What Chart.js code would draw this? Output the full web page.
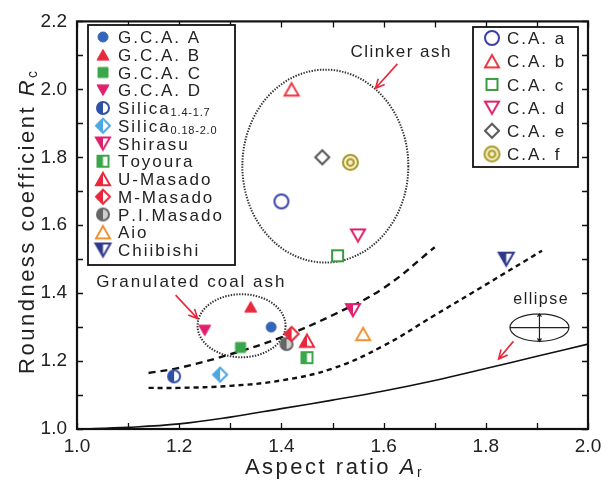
<!DOCTYPE html>
<html>
<head>
<meta charset="utf-8">
<script src="https://cdn.jsdelivr.net/npm/chart.js@4.4.0/dist/chart.umd.min.js"></script>
<style>
  html, body { margin: 0; padding: 0; background: #fff; }
  #wrap { width: 614px; height: 484px; }
</style>
</head>
<body>
<div id="wrap"><canvas id="rc-chart" width="614" height="484"></canvas></div>
<script>
// Roundness coefficient Rc against aspect ratio Ar for coal ash and sands

const seriesNames = ['G.C.A. A', 'G.C.A. B', 'G.C.A. C', 'G.C.A. D', 'Silica', 'Silica', 'Shirasu',
    'Toyoura', 'U-Masado', 'M-Masado', 'P.I.Masado', 'Aio', 'Chiibishi',
    'C.A. a', 'C.A. b', 'C.A. c', 'C.A. d', 'C.A. e', 'C.A. f'];
const seriesSubs = ['', '', '', '', '1.4-1.7', '0.18-2.0', '', '', '', '', '', '', '',
    '', '', '', '', '', ''];
const aspectRatio = [1.38, 1.34, 1.32, 1.25, 1.19, 1.28, 1.54, 1.45, 1.45, 1.42, 1.41, 1.56, 1.84,
    1.40, 1.42, 1.51, 1.55, 1.48, 1.535];
const roundness = [1.30, 1.36, 1.24, 1.29, 1.155, 1.16, 1.35, 1.21, 1.26, 1.28, 1.25, 1.28, 1.50,
    1.67, 2.00, 1.51, 1.57, 1.80, 1.785];

// ellipse line
const ellipseAr = [1.0, 1.1, 1.2, 1.3, 1.4, 1.5, 1.6, 1.7, 1.8, 1.9, 2.0];
const ellipseRc = [1.0, 1.005, 1.015, 1.035, 1.06, 1.085, 1.112, 1.143, 1.178, 1.214, 1.25];
// dashed boundaries
const upperAr = [1.14, 1.2, 1.3, 1.4, 1.5, 1.6, 1.7];
const upperRc = [1.165, 1.18, 1.22, 1.27, 1.335, 1.415, 1.535];
const lowerAr = [1.14, 1.2, 1.3, 1.4, 1.5, 1.6, 1.7, 1.8, 1.91];
const lowerRc = [1.121, 1.121, 1.127, 1.143, 1.178, 1.245, 1.335, 1.425, 1.525];

const xTickLabels = [1.0, 1.2, 1.4, 1.6, 1.8, 2.0];
const yTickLabels = [1.0, 1.2, 1.4, 1.6, 1.8, 2.0, 2.2];
const xMinorTicks = [1.0, 1.1, 1.2, 1.3, 1.4, 1.5, 1.6, 1.7, 1.8, 1.9, 2.0];
const yMinorTicks = [1.0, 1.1, 1.2, 1.3, 1.4, 1.5, 1.6, 1.7, 1.8, 1.9, 2.0, 2.1, 2.2];

const FONT = "'Liberation Sans', Arial, Helvetica, sans-serif";

const markerSpecs = [
    { shape: 'circle', color: '#3565b8', fill: 'full', r: 5 },
    { shape: 'triangle', color: '#e8283c', fill: 'full', r: 6 },
    { shape: 'square', color: '#3aa64a', fill: 'full', r: 5 },
    { shape: 'triangleDown', color: '#e0206e', fill: 'full', r: 6 },
    { shape: 'circle', color: '#3050a8', fill: 'half', r: 6 },
    { shape: 'diamond', color: '#4ea8e0', fill: 'half', r: 7 },
    { shape: 'triangleDown', color: '#e0206e', fill: 'half', r: 7 },
    { shape: 'square', color: '#3aa64a', fill: 'half', r: 5.5 },
    { shape: 'triangle', color: '#e8283c', fill: 'half', r: 7 },
    { shape: 'diamond', color: '#e8283c', fill: 'half', r: 7 },
    { shape: 'circle', color: '#666666', fill: 'grey', r: 6 },
    { shape: 'triangle', color: '#f0902c', fill: 'none', r: 7 },
    { shape: 'triangleDown', color: '#2f3a8c', fill: 'half', r: 7.5 },
    { shape: 'circle', color: '#3a40a8', fill: 'none', r: 7 },
    { shape: 'triangle', color: '#ee3040', fill: 'none', r: 7 },
    { shape: 'square', color: '#3a9a3e', fill: 'none', r: 5.5 },
    { shape: 'triangleDown', color: '#e0206e', fill: 'none', r: 7 },
    { shape: 'diamond', color: '#555555', fill: 'none', r: 7 },
    { shape: 'double', color: '#a89a28', fill: 'none', r: 7.5 }
];

// annotation shapes, in axis units
const notes = {
    clinker: { cx: 1.486, cy: 1.774, rx: 0.1624, ry: 0.284 },
    granulated: { cx: 1.322, cy: 1.304, rx: 0.0861, ry: 0.0928 },
    icon: { cx: 1.905, cy: 1.2986, rx: 0.0577, ry: 0.0406 },
    arrows: [
        [1.627, 2.075, 1.584, 2.003],
        [1.193, 1.394, 1.236, 1.325],
        [1.854, 1.258, 1.825, 1.206]
    ],
    texts: [
        ['Clinker ash', 1.633, 2.113, 17, 1.5],
        ['Granulated coal ash', 1.222, 1.435, 17, 2],
        ['ellipse', 1.907, 1.386, 16, 1.5]
    ]
};

function shapePath(ctx, shape, r) {
    ctx.beginPath();
    if (shape === 'circle' || shape === 'double') {
        ctx.arc(0, 0, r, 0, Math.PI * 2);
    } else if (shape === 'square') {
        ctx.rect(-r, -r, 2 * r, 2 * r);
    } else if (shape === 'diamond') {
        ctx.moveTo(0, -r); ctx.lineTo(r, 0); ctx.lineTo(0, r); ctx.lineTo(-r, 0); ctx.closePath();
    } else if (shape === 'triangle') {
        ctx.moveTo(0, -r * 0.875); ctx.lineTo(r, r * 0.875); ctx.lineTo(-r, r * 0.875); ctx.closePath();
    } else if (shape === 'triangleDown') {
        ctx.moveTo(0, r * 0.875); ctx.lineTo(r, -r * 0.875); ctx.lineTo(-r, -r * 0.875); ctx.closePath();
    }
}

function makeMarker(spec) {
    const size = Math.ceil(spec.r * 2 + 6);
    const c = document.createElement('canvas');
    c.width = size; c.height = size;
    const ctx = c.getContext('2d');
    ctx.translate(size / 2, size / 2);
    ctx.strokeStyle = spec.color;
    ctx.lineWidth = spec.fill === 'full' ? 1 : 2;
    shapePath(ctx, spec.shape, spec.r);
    if (spec.fill === 'full') {
        ctx.fillStyle = spec.color;
        ctx.fill();
    } else {
        ctx.fillStyle = spec.shape === 'double' ? '#f6f1c8' : '#ffffff';
        ctx.fill();
    }
    if (spec.fill === 'half' || spec.fill === 'grey') {
        ctx.save();
        ctx.clip();
        if (spec.fill === 'grey') {
            ctx.fillStyle = '#cfcfcf';
            ctx.fillRect(0, -size, size, 2 * size);
        }
        ctx.fillStyle = spec.color;
        ctx.fillRect(-size, -size, size, 2 * size);
        ctx.restore();
    }
    shapePath(ctx, spec.shape, spec.r);
    ctx.stroke();
    if (spec.shape === 'double') {
        ctx.beginPath();
        ctx.arc(0, 0, spec.r * 0.45, 0, Math.PI * 2);
        ctx.stroke();
    }
    return c;
}

const markerImages = markerSpecs.map(makeMarker);

// text drawn glyph by glyph so letter spacing is predictable
function partFont(style, size) {
    if (style === 'sub') return Math.round(size * 0.62) + 'px ' + FONT;
    if (style === 'i') return 'italic ' + size + 'px ' + FONT;
    return size + 'px ' + FONT;
}
function richWidth(ctx, parts, size, spacing) {
    let w = 0;
    parts.forEach(p => {
        ctx.font = partFont(p[1], size);
        const sp = p[1] === 'sub' ? spacing * 0.4 : spacing;
        for (const ch of p[0]) w += ctx.measureText(ch).width + sp;
    });
    return w - spacing;
}
// y is the vertical middle of the capitals
function drawRich(ctx, parts, x, y, align, size, spacing) {
    ctx.textBaseline = 'alphabetic';
    ctx.textAlign = 'left';
    const base = y + size * 0.36;
    let cx = align === 'center' ? x - richWidth(ctx, parts, size, spacing) / 2 : x;
    parts.forEach(p => {
        ctx.font = partFont(p[1], size);
        const dy = p[1] === 'sub' ? size * 0.12 : 0;
        const sp = p[1] === 'sub' ? spacing * 0.4 : spacing;
        for (const ch of p[0]) {
            ctx.fillText(ch, cx, base + dy);
            cx += ctx.measureText(ch).width + sp;
        }
    });
}

function drawArrow(ctx, x1, y1, x2, y2) {
    const a = Math.atan2(y2 - y1, x2 - x1);
    const h = 10;
    ctx.beginPath();
    ctx.moveTo(x1, y1); ctx.lineTo(x2, y2);
    ctx.moveTo(x2 - h * Math.cos(a - 0.45), y2 - h * Math.sin(a - 0.45));
    ctx.lineTo(x2, y2);
    ctx.lineTo(x2 - h * Math.cos(a + 0.45), y2 - h * Math.sin(a + 0.45));
    ctx.stroke();
}

const decorations = {
    id: 'decorations',
    beforeDatasetsDraw(chart) {
        const ctx = chart.ctx, xs = chart.scales.x, ys = chart.scales.y;
        ctx.save();
        ctx.strokeStyle = '#333';
        ctx.lineWidth = 2;
        ctx.setLineDash([1.4, 1.4]);
        [notes.clinker, notes.granulated].forEach(e => {
            const cx = xs.getPixelForValue(e.cx), cy = ys.getPixelForValue(e.cy);
            const rx = xs.getPixelForValue(e.cx + e.rx) - cx;
            const ry = cy - ys.getPixelForValue(e.cy + e.ry);
            ctx.beginPath();
            ctx.ellipse(cx, cy, rx, ry, 0, 0, Math.PI * 2);
            ctx.stroke();
        });
        ctx.restore();
    },
    afterDraw(chart) {
        const ctx = chart.ctx, xs = chart.scales.x, ys = chart.scales.y;
        const a = chart.chartArea;
        ctx.save();

        // frame and inward ticks on all four sides
        ctx.strokeStyle = '#111';
        ctx.lineWidth = 1.3;
        ctx.beginPath();
        xMinorTicks.forEach(v => {
            const px = Math.round(xs.getPixelForValue(v)) + 0.5;
            ctx.moveTo(px, a.bottom); ctx.lineTo(px, a.bottom - 6);
            ctx.moveTo(px, a.top); ctx.lineTo(px, a.top + 6);
        });
        yMinorTicks.forEach(v => {
            const py = Math.round(ys.getPixelForValue(v)) + 0.5;
            ctx.moveTo(a.left, py); ctx.lineTo(a.left + 6, py);
            ctx.moveTo(a.right, py); ctx.lineTo(a.right - 6, py);
        });
        ctx.stroke();
        ctx.lineWidth = 2.2;
        ctx.strokeRect(a.left, a.top, a.right - a.left, a.bottom - a.top);

        // annotation arrows
        ctx.strokeStyle = '#e8283c';
        ctx.lineWidth = 1.6;
        notes.arrows.forEach(r => drawArrow(ctx,
            xs.getPixelForValue(r[0]), ys.getPixelForValue(r[1]),
            xs.getPixelForValue(r[2]), ys.getPixelForValue(r[3])));

        // small ellipse sketch with its axes
        const ic = notes.icon;
        const icx = xs.getPixelForValue(ic.cx), icy = ys.getPixelForValue(ic.cy);
        const irx = xs.getPixelForValue(ic.cx + ic.rx) - icx;
        const iry = icy - ys.getPixelForValue(ic.cy + ic.ry);
        ctx.strokeStyle = '#222';
        ctx.lineWidth = 1.2;
        ctx.beginPath();
        ctx.ellipse(icx, icy, irx, iry, 0, 0, Math.PI * 2);
        ctx.moveTo(icx - irx, icy); ctx.lineTo(icx + irx, icy);
        ctx.moveTo(icx, icy - iry); ctx.lineTo(icx, icy + iry);
        ctx.moveTo(icx - 2, icy - iry + 3); ctx.lineTo(icx, icy - iry); ctx.lineTo(icx + 2, icy - iry + 3);
        ctx.moveTo(icx - 2, icy + iry - 3); ctx.lineTo(icx, icy + iry); ctx.lineTo(icx + 2, icy + iry - 3);
        ctx.stroke();

        // free text notes
        ctx.fillStyle = '#222';
        notes.texts.forEach(t => drawRich(ctx, [[t[0], '']],
            xs.getPixelForValue(t[1]), ys.getPixelForValue(t[2]), 'center', t[3], t[4]));

        // legend boxes
        const boxes = [
            { x: 88, y: 25, w: 147, h: 240, first: 0, last: 12, row0: 37, dy: 17.75, mx: 103, tx: 118 },
            { x: 473, y: 27, w: 105, h: 140, first: 13, last: 18, row0: 38, dy: 23.2, mx: 492, tx: 507 }
        ];
        boxes.forEach(b => {
            ctx.fillStyle = '#fff';
            ctx.fillRect(b.x, b.y, b.w, b.h);
            ctx.strokeStyle = '#111';
            ctx.lineWidth = 1.8;
            ctx.strokeRect(b.x, b.y, b.w, b.h);
            for (let i = b.first; i <= b.last; i++) {
                const y = b.row0 + (i - b.first) * b.dy;
                const img = markerImages[i];
                ctx.drawImage(img, b.mx - img.width / 2, y - img.height / 2);
                ctx.fillStyle = '#222';
                const parts = [[seriesNames[i], '']];
                if (seriesSubs[i]) parts.push([seriesSubs[i], 'sub']);
                drawRich(ctx, parts, b.tx, y, 'left', 17, 2);
            }
        });

        // axis titles
        ctx.fillStyle = '#222';
        drawRich(ctx, [['Aspect ratio ', ''], ['A', 'i'], ['r', 'sub']],
            (a.left + a.right) / 2, 466, 'center', 22, 2.5);
        ctx.translate(26, (a.top + a.bottom) / 2 - 2);
        ctx.rotate(-Math.PI / 2);
        drawRich(ctx, [['Roundness coefficient ', ''], ['R', 'i'], ['c', 'sub']],
            0, 0, 'center', 22, 2.5);
        ctx.restore();
    }
};

const pointSets = seriesNames.map((name, i) => ({
    type: 'scatter',
    label: name + seriesSubs[i],
    data: [{ x: aspectRatio[i], y: roundness[i] }],
    pointStyle: markerImages[i],
    pointRadius: markerSpecs[i].r,
    order: 1
}));

function curve(label, xsArr, ysArr, dash, width) {
    return {
        type: 'line',
        label: label,
        data: xsArr.map((x, i) => ({ x: x, y: ysArr[i] })),
        borderColor: '#111',
        borderWidth: width,
        borderDash: dash,
        pointRadius: 0,
        fill: false,
        tension: 0.4,
        order: 2
    };
}

new Chart(document.getElementById('rc-chart').getContext('2d'), {
    type: 'scatter',
    data: {
        datasets: [
            curve('ellipse', ellipseAr, ellipseRc, [], 1.6),
            curve('upper', upperAr, upperRc, [7, 5], 2.4),
            curve('lower', lowerAr, lowerRc, [5, 4], 2.4),
            ...pointSets
        ]
    },
    options: {
        responsive: false,
        animation: false,
        devicePixelRatio: 1,
        events: [],
        layout: { padding: { top: 15, right: 26, left: 0, bottom: 0 } },
        plugins: { legend: { display: false }, tooltip: { enabled: false } },
        scales: {
            x: {
                type: 'linear',
                min: 1.0,
                max: 2.0,
                afterBuildTicks: s => { s.ticks = xTickLabels.map(v => ({ value: v })); },
                afterFit: s => { s.height = 55; },
                ticks: {
                    callback: v => Number(v).toFixed(1),
                    font: { family: FONT, size: 19 },
                    color: '#222',
                    padding: 6,
                    maxRotation: 0,
                    autoSkip: false
                },
                grid: { display: false, drawTicks: false },
                border: { display: false }
            },
            y: {
                type: 'linear',
                min: 1.0,
                max: 2.2,
                afterBuildTicks: s => { s.ticks = yTickLabels.map(v => ({ value: v })); },
                afterFit: s => { s.width = 77; },
                ticks: {
                    callback: v => Number(v).toFixed(1),
                    font: { family: FONT, size: 19 },
                    color: '#222',
                    padding: 10,
                    autoSkip: false
                },
                grid: { display: false, drawTicks: false },
                border: { display: false }
            }
        }
    },
    plugins: [decorations]
});
</script>
</body>
</html>
